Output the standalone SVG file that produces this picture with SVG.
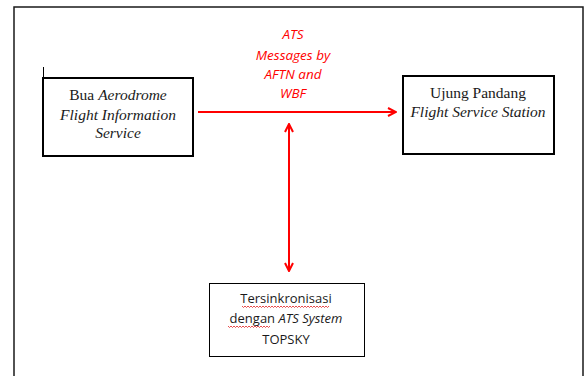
<svg xmlns="http://www.w3.org/2000/svg" width="585" height="376" viewBox="0 0 585 376">
  <style>
    .frame { fill: none; stroke: #1a1a1a; stroke-width: 1.5; }
    .box { fill: #ffffff; stroke: #000000; stroke-width: 2; }
    .box-thin { fill: #ffffff; stroke: #000000; stroke-width: 1; }
    .serif { font-family: 'Liberation Serif', 'DejaVu Serif', serif; font-size: 15.5px; fill: #1a1a1a; text-anchor: middle; }
    .sans { font-family: 'Open Sans', 'Liberation Sans', sans-serif; font-size: 13px; fill: #1a1a1a; text-anchor: middle; }
    .label { font-family: 'Open Sans', 'Liberation Sans', sans-serif; font-size: 13.5px; font-style: italic; fill: #ff0000; text-anchor: middle; }
    .it { font-style: italic; }
    .link { stroke: #ff0000; stroke-width: 2; fill: none; }
    .squiggle { stroke: #e02020; stroke-width: 0.8; fill: none; }
  </style>
  <defs>
    <marker id="arrow" viewBox="0 0 10 10" refX="9" refY="5" markerWidth="5" markerHeight="5" orient="auto-start-reverse" markerUnits="strokeWidth">
      <path d="M1,1 L9,5 L1,9" fill="none" stroke="#ff0000" stroke-width="2"/>
    </marker>
  </defs>

  <rect width="585" height="376" fill="#ffffff"/>
  <!-- page frame -->
  <path class="frame" d="M14,380 L14,7 L583,7 L583,380"/>
  <!-- text cursor mark -->
  <line x1="43.5" y1="67" x2="43.5" y2="79" stroke="#000" stroke-width="1"/>

  <g id="connectors">
    <line class="link" x1="198" y1="112" x2="396" y2="112" marker-end="url(#arrow)"/>
    <line class="link" x1="289" y1="124" x2="289" y2="271" marker-start="url(#arrow)" marker-end="url(#arrow)"/>
    <g id="link-label">
      <text class="label" x="293" y="39">ATS</text>
      <text class="label" x="293" y="60">Messages by</text>
      <text class="label" x="293" y="79">AFTN and</text>
      <text class="label" x="293" y="98">WBF</text>
    </g>
  </g>

  <g id="node-bua">
    <rect class="box" x="43" y="78" width="150" height="78"/>
    <text class="serif" x="118" y="100">Bua <tspan class="it">Aerodrome</tspan></text>
    <text class="serif it" x="118" y="120">Flight Information</text>
    <text class="serif it" x="118" y="138">Service</text>
  </g>

  <g id="node-ujung-pandang">
    <rect class="box" x="403" y="76" width="151" height="78"/>
    <text class="serif" x="478" y="98">Ujung Pandang</text>
    <text class="serif it" x="478" y="117">Flight Service Station</text>
  </g>

  <g id="node-topsky">
    <rect class="box-thin" x="209.5" y="283.5" width="155" height="73"/>
    <text class="sans" x="286" y="303">Tersinkronisasi</text>
    <text class="sans" x="286" y="323">dengan <tspan class="it">ATS System</tspan></text>
    <text class="sans" x="286" y="344">TOPSKY</text>
    <path class="squiggle" d="M242,306 l1.5,1.5 l1.5,-1.5 l1.5,1.5 l1.5,-1.5 l1.5,1.5 l1.5,-1.5 l1.5,1.5 l1.5,-1.5 l1.5,1.5 l1.5,-1.5 l1.5,1.5 l1.5,-1.5 l1.5,1.5 l1.5,-1.5 l1.5,1.5 l1.5,-1.5 l1.5,1.5 l1.5,-1.5 l1.5,1.5 l1.5,-1.5 l1.5,1.5 l1.5,-1.5 l1.5,1.5 l1.5,-1.5 l1.5,1.5 l1.5,-1.5 l1.5,1.5 l1.5,-1.5 l1.5,1.5 l1.5,-1.5 l1.5,1.5 l1.5,-1.5 l1.5,1.5 l1.5,-1.5 l1.5,1.5 l1.5,-1.5 l1.5,1.5 l1.5,-1.5 l1.5,1.5 l1.5,-1.5 l1.5,1.5 l1.5,-1.5 l1.5,1.5 l1.5,-1.5 l1.5,1.5 l1.5,-1.5 l1.5,1.5 l1.5,-1.5 l1.5,1.5 l1.5,-1.5 l1.5,1.5 l1.5,-1.5 l1.5,1.5 l1.5,-1.5 l1.5,1.5 l1.5,-1.5 l1.5,1.5 l1.5,-1.5"/>
    <path class="squiggle" d="M228,326 l1.5,1.5 l1.5,-1.5 l1.5,1.5 l1.5,-1.5 l1.5,1.5 l1.5,-1.5 l1.5,1.5 l1.5,-1.5 l1.5,1.5 l1.5,-1.5 l1.5,1.5 l1.5,-1.5 l1.5,1.5 l1.5,-1.5 l1.5,1.5 l1.5,-1.5 l1.5,1.5 l1.5,-1.5 l1.5,1.5 l1.5,-1.5 l1.5,1.5 l1.5,-1.5 l1.5,1.5 l1.5,-1.5 l1.5,1.5 l1.5,-1.5 l1.5,1.5 l1.5,-1.5"/>
  </g>
</svg>
